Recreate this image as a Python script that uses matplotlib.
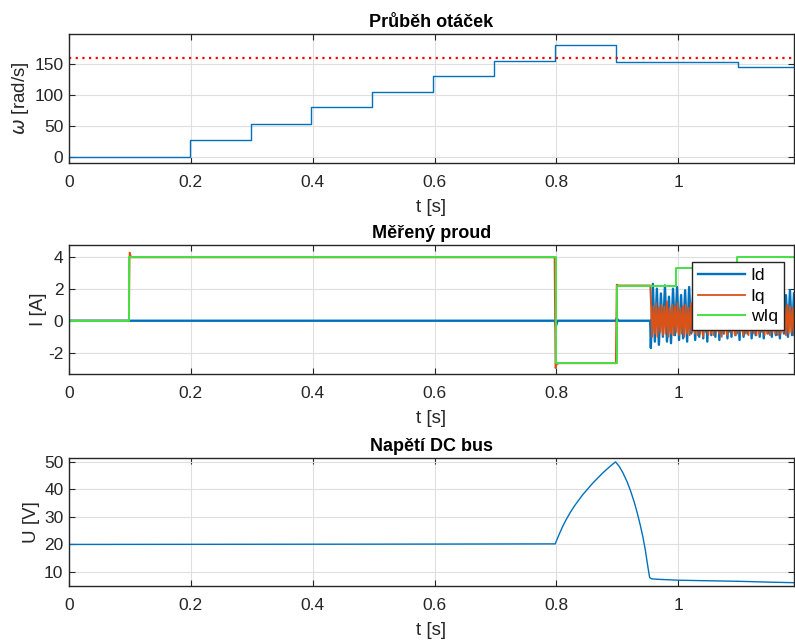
import numpy as np
import matplotlib
matplotlib.use('Agg')
import matplotlib.pyplot as plt

plt.rcParams['font.family'] = ['Liberation Sans', 'DejaVu Sans']
plt.rcParams['axes.unicode_minus'] = False

# --- data ---
# otacky (omega), step values
w_t = [0.0, 0.198, 0.298, 0.398, 0.498, 0.598, 0.698, 0.798, 0.898, 0.998, 1.098, 1.19]
w_v = [0.0, 27.5, 53.5, 79.5, 104.5, 130.0, 154.5, 179.5, 152.5, 153.5, 145.0, 145.0]
w_limit = 160

# proud - zadana hodnota wIq
wiq_t = [0.0, 0.099, 0.799, 0.899, 0.997, 1.097, 1.19]
wiq_v = [0.0, 4.0, -2.65, 2.15, 3.3, 4.0, 4.0]

# Iq pred rozkmitanim
iq_t = [0.0, 0.0985, 0.0995, 0.102, 0.797, 0.7985, 0.8005, 0.804, 0.8975, 0.899, 0.902, 0.954]
iq_v = [0.0, 0.0, 4.25, 3.95, 3.95, -2.95, -2.7, -2.65, -2.65, 2.25, 2.2, 2.2]

# Id pred rozkmitanim
id_t = [0.0, 0.7975, 0.799, 0.802, 0.8975, 0.899, 0.902, 0.954]
id_v = [0.0, 0.0, -0.35, 0.0, 0.0, 0.15, 0.0, 0.0]

# rozkmitani po t = 0.955 (spicky / minima)
id_peaks = [2.3, 2.0, 1.7, 2.2, 1.5, 2.0, 2.1, 1.6, 1.9, 2.1, 1.7, 2.0, 1.5, 2.1, 1.8, 1.6, 2.0, 1.7,
            2.1, 1.5, 1.9, 1.7, 2.0, 1.4, 1.8, 2.1, 1.6, 1.9, 1.7, 2.0, 1.5, 1.8, 2.1, 1.6, 1.9, 1.7]
id_troughs = [-1.7, -1.3, -1.5, -1.0, -1.3, -1.4, -0.9, -1.2, -1.1, -1.3, -0.8, -1.2, -1.0, -1.1, -1.3, -0.9, -1.0, -1.2,
              -0.8, -1.1, -1.0, -0.9, -1.2, -1.0, -0.8, -1.1, -0.9, -1.0, -1.1, -0.8, -1.0, -0.9, -1.1, -0.8, -1.0, -0.9]
iq_peaks = [1.3, 0.9, 1.1, 0.8, 1.0, 0.9, 1.2, 0.8, 1.0, 0.9, 1.1, 0.8, 0.9, 1.0, 0.8, 1.1, 0.9, 1.0,
            0.8, 0.9, 1.1, 0.8, 1.0, 0.9, 0.8, 1.0, 0.9, 1.1, 0.8, 0.9, 1.0, 0.8, 0.9, 1.0, 0.8, 0.9,
            1.0, 0.8, 0.9, 1.1, 0.8, 0.9, 1.0, 0.8, 0.9, 1.0, 0.9, 0.8, 1.0, 0.9, 0.8, 1.0, 0.9, 0.8]
iq_troughs = [-1.0, -0.8, -1.0, -0.7, -0.9, -0.8, -1.0, -0.8, -0.9, -0.7, -0.9, -0.8, -1.0, -0.8, -0.9, -0.7, -0.8, -0.9,
              -0.8, -1.0, -0.7, -0.9, -0.8, -0.9, -0.7, -0.8, -1.0, -0.8, -0.9, -0.7, -0.8, -0.9, -0.8, -0.7, -0.9, -0.8,
              -0.9, -0.7, -0.8, -0.9, -0.8, -0.7, -0.9, -0.8, -0.9, -0.7, -0.8, -0.9, -0.8, -0.7, -0.9, -0.8, -0.7, -0.9]

# napeti DC bus
u_t = [0.0, 0.5, 0.798, 0.801, 0.805, 0.810, 0.816, 0.823, 0.830, 0.843, 0.860, 0.876, 0.887, 0.897,
       0.903, 0.909, 0.916, 0.922, 0.928, 0.933, 0.938, 0.942, 0.946, 0.950, 0.953, 0.956,
       0.97, 1.0, 1.05, 1.1, 1.15, 1.19]
u_v = [20.0, 20.1, 20.2, 21.8, 23.9, 26.4, 29.0, 31.7, 34.1, 38.0, 42.35, 45.95, 48.15, 50.0,
       48.4, 46.1, 42.8, 39.3, 35.2, 31.2, 26.7, 22.7, 17.9, 12.1, 8.0, 7.5,
       7.3, 7.0, 6.8, 6.6, 6.3, 6.1]

# --- sestaveni signalu proudu ---
n_id = 2 * len(id_peaks)
osc_id_t = np.linspace(0.955, 1.19, n_id)
osc_id_v = np.empty(n_id)
osc_id_v[0::2] = id_troughs
osc_id_v[1::2] = id_peaks

n_iq = 2 * len(iq_peaks)
osc_iq_t = np.linspace(0.955, 1.19, n_iq)
osc_iq_v = np.empty(n_iq)
osc_iq_v[0::2] = iq_peaks
osc_iq_v[1::2] = iq_troughs

Id_t = np.concatenate([id_t, osc_id_t])
Id_v = np.concatenate([id_v, osc_id_v])
Iq_t = np.concatenate([iq_t, osc_iq_t])
Iq_v = np.concatenate([iq_v, osc_iq_v])

# --- graf ---
blue = '#0072BD'
orange = '#D95319'
green = '#45e045'
dark = '#262626'

fig = plt.figure(figsize=(7.95, 6.44), dpi=100)
W, H = 795.0, 644.0
left = 69 / W
width = 725 / W


def make_ax(top_px, bottom_px):
    ax = fig.add_axes([left, 1 - bottom_px / H, width, (bottom_px - top_px) / H])
    ax.set_xlim(0, 1.19)
    ax.set_xticks([0, 0.2, 0.4, 0.6, 0.8, 1.0])
    ax.set_xticklabels(['0', '0.2', '0.4', '0.6', '0.8', '1'])
    ax.grid(True, color='#dfdfdf', linewidth=0.8)
    ax.set_axisbelow(True)
    ax.tick_params(direction='in', top=True, right=True, length=4, width=0.8,
                   labelsize=12.5, colors=dark, labelcolor=dark)
    ax.tick_params(axis='x', pad=9)
    ax.tick_params(axis='y', pad=4)
    for s in ax.spines.values():
        s.set_color(dark)
        s.set_linewidth(1.0)
    ax.set_xlabel('t [s]', fontsize=13.5, color=dark, labelpad=6)
    return ax


# Prubeh otacek
ax1 = make_ax(34, 163)
ax1.plot(w_t, w_v, drawstyle='steps-post', color=blue, linewidth=1.0)
ax1.axhline(w_limit, color='red', linestyle=(0, (1, 2)), linewidth=1.6)
ax1.set_ylim(-10, 198)
ax1.set_yticks([0, 50, 100, 150])
ax1.set_ylabel(r'$\omega$ [rad/s]', fontsize=13.5, color=dark)
ax1.yaxis.set_label_coords(-0.053, 0.5)
ax1.set_title('Průběh otáček', fontsize=13, fontweight='bold', pad=5)

# Mereny proud
ax2 = make_ax(245, 374)
ax2.plot(Id_t, Id_v, color=blue, linewidth=1.7, label='Id')
ax2.plot(Iq_t, Iq_v, color=orange, linewidth=1.3, label='Iq')
ax2.plot(wiq_t, wiq_v, drawstyle='steps-post', color=green, linewidth=1.4, label='wIq')
ax2.set_ylim(-3.32, 4.72)
ax2.set_yticks([-2, 0, 2, 4])
ax2.set_ylabel('I [A]', fontsize=13.5, color=dark)
ax2.yaxis.set_label_coords(-0.031, 0.5)
ax2.set_title('Měřený proud', fontsize=13, fontweight='bold', pad=5)
leg = ax2.legend(loc='upper right', bbox_to_anchor=(0.986, 0.868), fontsize=12.5,
                 frameon=True, fancybox=False, edgecolor=dark, framealpha=1.0,
                 handlelength=2.7, borderpad=0.35, labelspacing=0.3, handletextpad=0.35,
                 borderaxespad=0.0)
leg.get_frame().set_linewidth(1.0)

# Napeti DC bus
ax3 = make_ax(458, 586)
ax3.plot(u_t, u_v, color=blue, linewidth=1.0)
ax3.set_ylim(4.9, 51.4)
ax3.set_yticks([10, 20, 30, 40, 50])
ax3.set_ylabel('U [V]', fontsize=13.5, color=dark)
ax3.yaxis.set_label_coords(-0.040, 0.5)
ax3.set_title('Napětí DC bus', fontsize=13, fontweight='bold', pad=5)

plt.savefig('out.png', dpi=100)
